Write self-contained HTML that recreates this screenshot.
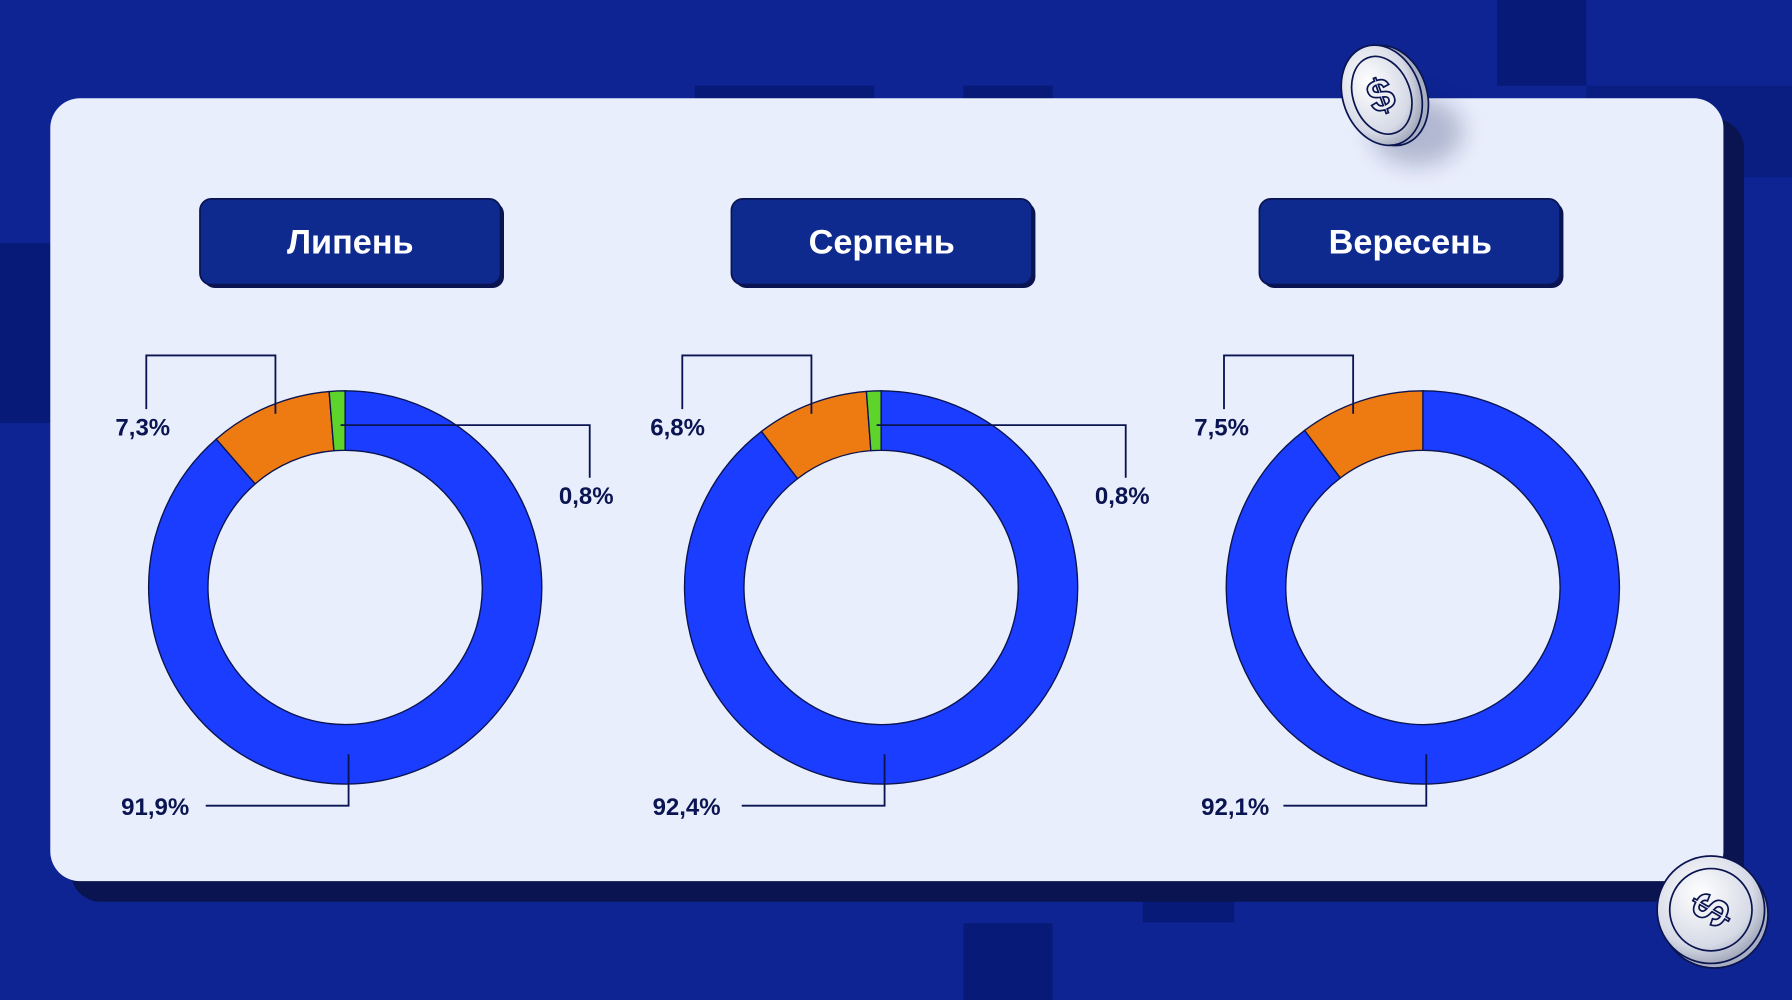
<!DOCTYPE html>
<html><head><meta charset="utf-8"><style>
html,body{margin:0;padding:0;background:#0c2491;}
svg{display:block;}
text{font-family:"Liberation Sans","DejaVu Sans",sans-serif;}
</style></head><body>
<svg width="1792" height="1000" viewBox="0 0 1568 875" preserveAspectRatio="none" xmlns="http://www.w3.org/2000/svg">
<defs>
<radialGradient id="coin" cx="40%" cy="35%" r="70%"><stop offset="0" stop-color="#ffffff"/><stop offset="0.7" stop-color="#d6dae6"/><stop offset="1" stop-color="#9aa0b4"/></radialGradient>
<filter id="sh" x="-50%" y="-50%" width="200%" height="200%"><feGaussianBlur stdDeviation="10"/></filter>
</defs>
<rect width="1568" height="875" fill="#0d2492"/>
<rect x="1310" y="0" width="78" height="75" fill="#081a78"/>
<rect x="1388" y="75" width="180" height="80" fill="#0a1e82"/>
<rect x="608" y="75" width="157" height="15" fill="#081a78"/>
<rect x="843" y="75" width="78" height="15" fill="#081a78"/>
<rect x="0" y="213" width="44" height="157" fill="#081a78"/>
<rect x="843" y="808" width="78" height="67" fill="#081a78"/>
<rect x="1000" y="785" width="80" height="22" fill="#081a78"/>
<!-- card shadow -->
<rect x="62" y="104" width="1464" height="685" rx="26" fill="#0a1450"/>
<rect x="44" y="86" width="1464" height="685" rx="26" fill="#e9eefc"/>
<!-- buttons -->
<g>
<rect x="178" y="177" width="263" height="75" rx="10" fill="#0a1450"/>
<rect x="175" y="174" width="263" height="75" rx="10" fill="#0e2a8f" stroke="#0a1450" stroke-width="1.5"/>
<text x="306.5" y="222" font-size="30" font-weight="700" fill="#fff" text-anchor="middle">Липень</text>
<rect x="643" y="177" width="263" height="75" rx="10" fill="#0a1450"/>
<rect x="640" y="174" width="263" height="75" rx="10" fill="#0e2a8f" stroke="#0a1450" stroke-width="1.5"/>
<text x="771.5" y="222" font-size="30" font-weight="700" fill="#fff" text-anchor="middle">Серпень</text>
<rect x="1105" y="177" width="263" height="75" rx="10" fill="#0a1450"/>
<rect x="1102" y="174" width="263" height="75" rx="10" fill="#0e2a8f" stroke="#0a1450" stroke-width="1.5"/>
<text x="1234" y="222" font-size="30" font-weight="700" fill="#fff" text-anchor="middle">Вересень</text>
</g>
<!-- donuts -->
<g stroke="#0a1450" stroke-width="1.2">
<!-- chart 1 center 302,514 -->
<path d="M302,342 A172,172 0 1 1 189.2,384.2 L223.3,423.4 A120,120 0 1 0 302,394 Z" fill="#1a3dff"/>
<path d="M189.2,384.2 A172,172 0 0 1 288,342.6 L292.2,394.4 A120,120 0 0 0 223.3,423.4 Z" fill="#ee7a12"/>
<path d="M288,342.6 A172,172 0 0 1 302,342 L302,394 A120,120 0 0 0 292.2,394.4 Z" fill="#5ed42a"/>
<!-- chart 2 center 771,514 -->
<path d="M771,342 A172,172 0 1 1 666.3,377.5 L697.9,418.8 A120,120 0 1 0 771,394 Z" fill="#1a3dff"/>
<path d="M666.3,377.5 A172,172 0 0 1 758.1,342.5 L762,394.3 A120,120 0 0 0 697.9,418.8 Z" fill="#ee7a12"/>
<path d="M758.1,342.5 A172,172 0 0 1 771,342 L771,394 A120,120 0 0 0 762,394.3 Z" fill="#5ed42a"/>
<!-- chart 3 center 1245,514 -->
<path d="M1245,342 A172,172 0 1 1 1141.5,376.6 L1172.8,418.2 A120,120 0 1 0 1245,394 Z" fill="#1a3dff"/>
<path d="M1141.5,376.6 A172,172 0 0 1 1245,342 L1245,394 A120,120 0 0 0 1172.8,418.2 Z" fill="#ee7a12"/>
</g>
<!-- leader lines -->
<g fill="none" stroke="#0a1450" stroke-width="1.6">
<polyline points="241,362 241,311 128,311 128,358"/>
<polyline points="298,372 516,372 516,418"/>
<polyline points="305,660 305,705 180,705"/>
<polyline points="710,362 710,311 597,311 597,358"/>
<polyline points="767,372 985,372 985,418"/>
<polyline points="774,660 774,705 649,705"/>
<polyline points="1184,362 1184,311 1071,311 1071,358"/>
<polyline points="1248,660 1248,705 1123,705"/>
</g>
<g font-size="21" font-weight="700" fill="#0a1450">
<text x="101" y="381">7,3%</text>
<text x="489" y="441">0,8%</text>
<text x="106" y="713">91,9%</text>
<text x="569" y="381">6,8%</text>
<text x="958" y="441">0,8%</text>
<text x="571" y="713">92,4%</text>
<text x="1045" y="381">7,5%</text>
<text x="1051" y="713">92,1%</text>
</g>
<!-- coins -->
<ellipse cx="1240" cy="115" rx="40" ry="30" fill="#0a1450" opacity="0.25" filter="url(#sh)"/>
<g transform="rotate(-20 1210 83)">
<ellipse cx="1214" cy="85" rx="34" ry="45" fill="#a8aec2" stroke="#0a1450" stroke-width="1.5"/>
<ellipse cx="1209" cy="83" rx="34" ry="45" fill="url(#coin)" stroke="#0a1450" stroke-width="1.5"/>
<ellipse cx="1209" cy="83" rx="25" ry="35" fill="none" stroke="#0a1450" stroke-width="1.5"/>
</g>
<text x="1208" y="97" font-size="40" font-weight="700" fill="#eef0f6" stroke="#0a1450" stroke-width="1.5" text-anchor="middle" transform="rotate(-20 1208 83)">$</text>
<circle cx="1500" cy="800" r="47" fill="#a8aec2" stroke="#0a1450" stroke-width="1.5"/>
<circle cx="1497" cy="796" r="47" fill="url(#coin)" stroke="#0a1450" stroke-width="1.5"/>
<circle cx="1497" cy="796" r="36" fill="none" stroke="#0a1450" stroke-width="1.5"/>
<text x="1497" y="811" font-size="44" font-weight="700" fill="#eef0f6" stroke="#0a1450" stroke-width="1.5" text-anchor="middle" transform="rotate(-60 1497 796)">$</text>
</svg>
</body></html>
